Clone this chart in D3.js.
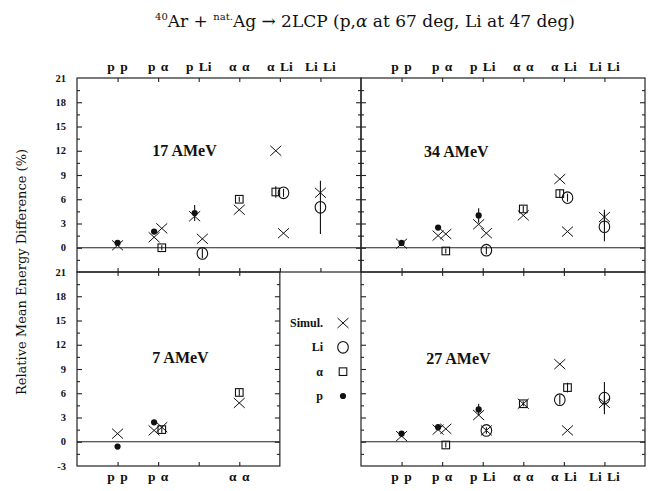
<!DOCTYPE html>
<html>
<head>
<meta charset="utf-8">
<script src="https://cdn.jsdelivr.net/npm/d3@7"></script>
<style>
  body { margin: 0; background: #fff; }
  svg { display: block; }
  text { font-family: "DejaVu Serif", "Liberation Serif", serif; fill: #111; }
  .lab { font-family: "Liberation Serif", "DejaVu Serif", serif; font-weight: bold; }
  .frame { stroke: #222; stroke-width: 1.2; fill: none; }
  .axis path { display: none; }
  .axis line { stroke: #222; stroke-width: 1.1; }
</style>
</head>
<body>
<svg id="chart" width="650" height="491"></svg>
<script>
"use strict";

// pair categories on the x axis
var categories = ["p p", "p \u03b1", "p Li", "\u03b1 \u03b1", "\u03b1 Li", "Li Li"];
var yMajorTicks = [-3, 0, 3, 6, 9, 12, 15, 18, 21];
var yMinorTicks = [-1.5, 1.5, 4.5, 7.5, 10.5, 13.5, 16.5, 19.5];

// each point: [category, slot (0 = pair, 1 = first particle, 2 = second), value %, error]
var simul17 = [["p p",0,0.3,0],["p \u03b1",1,1.3,0],["p \u03b1",2,2.4,0],["p Li",1,3.9,0],["p Li",2,1.1,0],
               ["\u03b1 \u03b1",0,4.7,0],["\u03b1 Li",1,12.0,0],["\u03b1 Li",2,1.8,0],["Li Li",0,6.8,0]];
var li17    = [["p Li",2,-0.7,0.6],["\u03b1 Li",2,6.8,0.5],["Li Li",0,5.0,3.3]];
var alpha17 = [["p \u03b1",2,0.0,0.3],["\u03b1 \u03b1",0,6.0,0.3],["\u03b1 Li",1,6.9,0.7]];
var p17     = [["p p",0,0.6,0],["p \u03b1",1,2.0,0],["p Li",1,4.3,1.0]];

var simul34 = [["p p",0,0.5,0],["p \u03b1",1,1.5,0],["p \u03b1",2,1.7,0],["p Li",1,2.9,0],["p Li",2,1.8,0],
               ["\u03b1 \u03b1",0,4.0,0],["\u03b1 Li",1,8.5,0],["\u03b1 Li",2,2.0,0],["Li Li",0,3.8,0.9]];
var li34    = [["p Li",2,-0.3,0.5],["\u03b1 Li",2,6.2,0.5],["Li Li",0,2.6,1.8]];
var alpha34 = [["p \u03b1",2,-0.4,0.3],["\u03b1 \u03b1",0,4.8,0.4],["\u03b1 Li",1,6.7,0.5]];
var p34     = [["p p",0,0.6,0],["p \u03b1",1,2.5,0],["p Li",1,4.0,0.9]];

var simul7  = [["p p",0,1.0,0],["p \u03b1",1,1.4,0],["p \u03b1",2,1.8,0],["\u03b1 \u03b1",0,4.8,0]];
var li7     = [];
var alpha7  = [["p \u03b1",2,1.5,0.4],["\u03b1 \u03b1",0,6.1,0.4]];
var p7      = [["p p",0,-0.6,0],["p \u03b1",1,2.4,0]];

var simul27 = [["p p",0,0.7,0],["p \u03b1",1,1.5,0],["p \u03b1",2,1.6,0],["p Li",1,3.3,0],["p Li",2,1.4,0],
               ["\u03b1 \u03b1",0,4.7,0],["\u03b1 Li",1,9.6,0],["\u03b1 Li",2,1.4,0],["Li Li",0,4.8,0.9]];
var li27    = [["p Li",2,1.4,0.4],["\u03b1 Li",1,5.2,0.6],["Li Li",0,5.4,2.0]];
var alpha27 = [["p \u03b1",2,-0.4,0.3],["\u03b1 \u03b1",0,4.7,0.3],["\u03b1 Li",2,6.7,0.6]];
var p27     = [["p p",0,1.0,0],["p \u03b1",1,1.8,0],["p Li",1,4.0,0.7]];

var panelNames = ["17 AMeV", "34 AMeV", "7 AMeV", "27 AMeV"];
var legendNames = ["Simul.", "Li", "\u03b1", "p"];

var svg = d3.select("#chart");

var xLeft = d3.scaleLinear().domain([0, 7]).range([77, 361]);
var xRight = d3.scaleLinear().domain([0, 7]).range([361, 645]);
var yTop = d3.scaleLinear().domain([-3, 21]).range([272, 78]);
var yBot = d3.scaleLinear().domain([-3, 21]).range([466, 272]);

var slotShift = [0, -0.1, 0.09];

var panels = [
  {name: panelNames[0], x: xLeft, y: yTop, xMax: 7, top: true, left: true, label: [2.65, 12.0],
   series: {simul: simul17, li: li17, alpha: alpha17, p: p17}},
  {name: panelNames[1], x: xRight, y: yTop, xMax: 7, top: true, left: false, label: [2.35, 11.8],
   series: {simul: simul34, li: li34, alpha: alpha34, p: p34}},
  {name: panelNames[2], x: xLeft, y: yBot, xMax: 5, top: false, left: true, label: [2.55, 10.4],
   series: {simul: simul7, li: li7, alpha: alpha7, p: p7}},
  {name: panelNames[3], x: xRight, y: yBot, xMax: 7, top: false, left: false, label: [2.4, 10.2],
   series: {simul: simul27, li: li27, alpha: alpha27, p: p27}}
];

function catX(pt) {
  return categories.indexOf(pt[0]) + 1 + slotShift[pt[1]];
}

function drawMarker(sel, kind) {
  if (kind === "simul") {
    sel.append("path").attr("d", "M-5.5,-5L5.5,5M-5.5,5L5.5,-5")
      .attr("stroke", "#111").attr("stroke-width", 1).attr("fill", "none");
  } else if (kind === "li") {
    sel.append("ellipse").attr("rx", 5.3).attr("ry", 5.8)
      .attr("stroke", "#111").attr("stroke-width", 1.1).attr("fill", "none");
  } else if (kind === "alpha") {
    sel.append("rect").attr("x", -3.8).attr("y", -3.8).attr("width", 7.6).attr("height", 7.6)
      .attr("stroke", "#111").attr("stroke-width", 1.1).attr("fill", "none");
  } else {
    sel.append("circle").attr("r", 3.1).attr("fill", "#111");
  }
}

panels.forEach(function(pn) {
  var g = svg.append("g");
  var x = pn.x, y = pn.y;
  var x0 = x(0), x1 = x(pn.xMax), yA = y(21), yB = y(-3);
  var ticksX = d3.range(1, pn.xMax);

  // inward ticks on the four sides
  g.append("g").attr("class", "axis").attr("transform", "translate(0," + yA + ")")
    .call(d3.axisTop(x).tickValues(ticksX).tickSize(-4).tickFormat(""));
  g.append("g").attr("class", "axis").attr("transform", "translate(0," + yB + ")")
    .call(d3.axisBottom(x).tickValues(ticksX).tickSize(-4).tickFormat(""));
  [x0, x1].forEach(function(px, i) {
    var dir = i === 0 ? 1 : -1;
    g.append("g").attr("class", "axis").attr("transform", "translate(" + px + ",0)")
      .call(d3.axisLeft(y).tickValues(yMajorTicks.slice(1, -1)).tickSize(-5 * dir).tickFormat(""));
    g.append("g").attr("class", "axis").attr("transform", "translate(" + px + ",0)")
      .call(d3.axisLeft(y).tickValues(yMinorTicks).tickSize(-3 * dir).tickFormat(""));
  });

  g.append("rect").attr("class", "frame")
    .attr("x", x0).attr("y", yA).attr("width", x1 - x0).attr("height", yB - yA);
  g.append("line").attr("class", "frame")
    .attr("x1", x0).attr("x2", x1).attr("y1", y(0)).attr("y2", y(0));

  // y tick labels on the far left only
  if (pn.left) {
    var vals = pn.top ? yMajorTicks.slice(1) : yMajorTicks;
    g.selectAll(".ylab").data(vals).enter().append("text").attr("class", "lab")
      .attr("x", 66).attr("y", function(d) { return y(d) + 3.5; })
      .attr("text-anchor", "end").attr("font-size", 10.5)
      .text(function(d) { return d; });
  }

  // category labels above the top row and below the bottom row
  var labCats = pn.top ? categories : (pn.xMax === 5 ? [categories[0], categories[1], categories[3]] : categories);
  g.selectAll(".xlab").data(labCats).enter().append("text").attr("class", "lab")
    .attr("x", function(d) { return x(categories.indexOf(d) + 1); })
    .attr("y", pn.top ? 71 : 481)
    .attr("text-anchor", "middle").attr("font-size", 13.5)
    .attr("word-spacing", 2)
    .text(function(d) { return d; });

  g.append("text").attr("class", "lab").attr("x", x(pn.label[0])).attr("y", y(pn.label[1]) + 5)
    .attr("text-anchor", "middle").attr("font-size", 16)
    .text(pn.name);

  ["simul", "li", "alpha", "p"].forEach(function(kind) {
    var pts = pn.series[kind];
    g.selectAll(".err-" + kind).data(pts.filter(function(d) { return d[3] > 0; })).enter()
      .append("line")
      .attr("x1", function(d) { return x(catX(d)); }).attr("x2", function(d) { return x(catX(d)); })
      .attr("y1", function(d) { return y(d[2] - d[3]); }).attr("y2", function(d) { return y(d[2] + d[3]); })
      .attr("stroke", "#111").attr("stroke-width", 1.1);
    g.selectAll(".m-" + kind).data(pts).enter().append("g")
      .attr("transform", function(d) { return "translate(" + x(catX(d)) + "," + y(d[2]) + ")"; })
      .each(function() { drawMarker(d3.select(this), kind); });
  });
});

// legend in the gap next to the 7 AMeV panel
var legKinds = ["simul", "li", "alpha", "p"];
var legY = d3.scalePoint().domain(legKinds).range([323, 396]);
var leg = svg.append("g");
legKinds.forEach(function(k, i) {
  leg.append("text").attr("class", "lab").attr("x", 323).attr("y", legY(k) + 4)
    .attr("text-anchor", "end").attr("font-size", 12)
    .text(legendNames[i]);
  var m = leg.append("g").attr("transform", "translate(343," + legY(k) + ")");
  drawMarker(m, k);
});

// title
var title = svg.append("text").attr("x", 365).attr("y", 27)
  .attr("text-anchor", "middle").attr("font-size", 17);
title.append("tspan").attr("font-size", 10).attr("dy", -7).text("40");
title.append("tspan").attr("dy", 7).text("Ar + ");
title.append("tspan").attr("font-size", 10).attr("dy", -7).text("nat.");
title.append("tspan").attr("dy", 7).text("Ag \u2192 2LCP (p,");
title.append("tspan").attr("font-style", "italic").text("\u03b1");
title.append("tspan").text(" at 67 deg, Li at 47 deg)");

svg.append("text")
  .attr("transform", "translate(26,272) rotate(-90)")
  .attr("text-anchor", "middle").attr("font-size", 13)
  .text("Relative Mean Energy Difference (%)");
</script>
</body>
</html>
